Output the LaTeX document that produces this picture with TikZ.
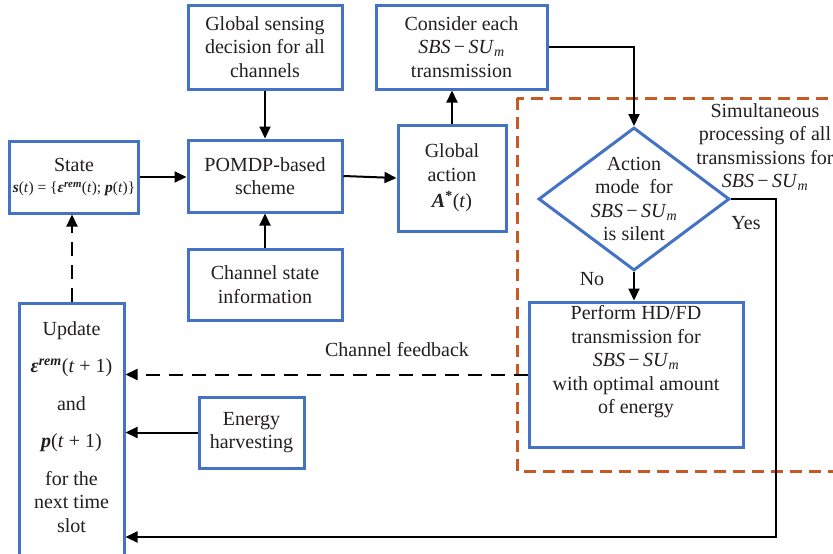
\documentclass[tikz,border=0pt]{standalone}
\usepackage{fontspec}
\setmainfont{Liberation Serif}
\usetikzlibrary{shapes.geometric,arrows.meta}
\definecolor{boxblue}{HTML}{4472C4}
\definecolor{regionorange}{HTML}{C65A24}
\definecolor{txt}{HTML}{231F20}
\newcommand\sbssu{\textit{SBS}\,−\,\textit{SU}\textsubscript{\textit{m}}}
\newcommand\bi[1]{\textbf{\textit{#1}}}
\tikzset{
  box/.style={draw=boxblue, line width=3pt, fill=white, inner sep=0pt},
  lbl/.style={text=txt, align=center, inner sep=0pt, font=\fontsize{20}{23.5}\selectfont},
  arr/.style={-{Triangle[length=12pt,width=11pt]}, line width=2pt, draw=black},
  dasharr/.style={arr, dash pattern=on 14pt off 9pt},
  region/.style={draw=regionorange, line width=3pt, dash pattern=on 12pt off 7pt},
}
\begin{document}
\begin{tikzpicture}[x=1pt,y=-1pt]
\clip (0,0) rectangle (833,554);
\fill[white] (0,0) rectangle (833,554);

% dashed region around the per-link processing
\draw[region] (517,98) rectangle (860,471);
\node[lbl, anchor=center] (simul) at (765,147)
  {Simultaneous\\processing of all\\transmissions for\\\sbssu};

% main boxes
\node[box, lbl, minimum width=129pt, minimum height=72pt] (state) at (74,177)
  {State\\[-2pt]{\fontsize{15.5}{18}\selectfont\bi{s}(\textit{t}) = \{\bi{ε}\textsuperscript{\bi{rem}}(\textit{t}); \bi{p}(\textit{t})\}}};
\node[box, lbl, minimum width=154pt, minimum height=72pt] (pom) at (265,176)
  {POMDP-based\\scheme};
\node[box, lbl, minimum width=154pt, minimum height=84pt] (sense) at (265,47)
  {Global sensing\\decision for all\\channels};
\node[box, lbl, minimum width=154pt, minimum height=71pt] (csi) at (265,284.5)
  {Channel state\\information};
\node[box, lbl, minimum width=171pt, minimum height=84pt] (cons) at (461.5,47)
  {Consider each\\\sbssu\\transmission};
\node[box, lbl, minimum width=108pt, minimum height=106pt] (gact) at (452,178)
  {Global\\action\\[3pt]\bi{A}\textsuperscript{\textbf{*}}(\textit{t})};

% decision
\node[draw=boxblue, line width=3pt, fill=white, shape=diamond, inner sep=0pt,
      minimum width=191pt, minimum height=143pt] (dec) at (634,199) {};
\node[lbl] (dectext) at (634,199) {Action\\mode~~for\\\sbssu\\is silent};

% transmission box
\node[box, minimum width=214pt, minimum height=145pt] (perf) at (636,374.5) {};
\node[lbl] (perftext) at (636,362)
  {Perform HD/FD\\transmission for\\\sbssu\\with optimal amount\\of energy};

% update box
\node[box, minimum width=105pt, minimum height=260pt] (upd) at (71.5,433) {};
\node[lbl] (u1) at (71.5,331) {Update};
\node[lbl] (u2) at (71.5,368) {\bi{ε}\textsuperscript{\bi{rem}}(\textit{t} + 1)};
\node[lbl] (u3) at (71.5,404) {and};
\node[lbl] (u4) at (71.5,443) {\bi{p}(\textit{t} + 1)};
\node[lbl] (u5) at (71.5,502) {for the\\next time\\slot};

% energy harvesting
\node[box, lbl, minimum width=105pt, minimum height=71pt] (eh) at (251.5,432.5)
  {Energy\\harvesting};

% connectors
\draw[arr] (state.east) -- (pom.west |- state.east);
\draw[arr] (sense.south) -- (pom.north);
\draw[arr] (csi.north) -- (pom.south);
\draw[arr] (pom.east) -- (gact.west);
\draw[arr] (gact.north) -- (gact.north |- cons.south);
\draw[arr] (cons.east) -| (dec.north);
\draw[arr] (dec.south) -- (perf.north -| dec.south);
\coordinate (ycorner) at (776,537);
\draw[arr] (dec.east) -| (ycorner) -- (upd.east |- ycorner);
\draw[dasharr] (perf.west) -- (upd.east |- perf.west);
\draw[arr] (eh.west) -- (upd.east |- eh.west);
\draw[dasharr] (upd.north -| 72,0) -- (72,0 |- state.south);

% labels
\node[lbl] (fb) at (397,350) {Channel feedback};
\node[lbl] (yes) at (746,223) {Yes};
\node[lbl] (no) at (592,279) {No};
\end{tikzpicture}
\end{document}
